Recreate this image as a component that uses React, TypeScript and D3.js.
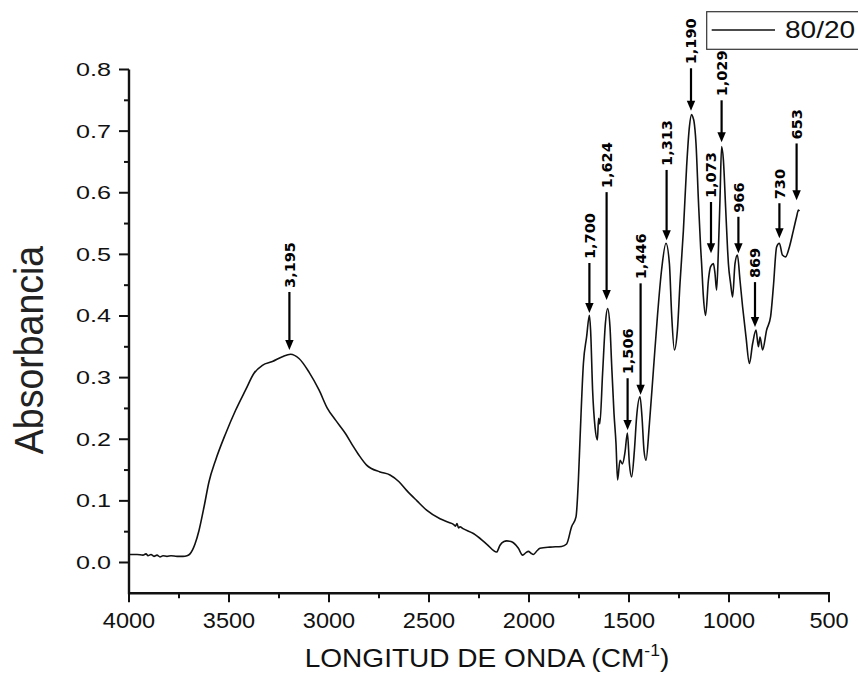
import React from "react";
import * as d3 from "d3";

// ---- Data ----
const WAVENUMBER = [
  4000, 3960, 3930, 3915, 3905, 3890, 3875, 3860, 3845, 3830, 3810, 3790, 3760, 3730, 3710, 3695,
  3683, 3670, 3650, 3625, 3600, 3567, 3517, 3467, 3417, 3375, 3333, 3283, 3233, 3192,
  3150, 3100, 3050, 3008, 2967, 2917, 2878, 2850, 2812, 2745, 2695, 2650, 2612, 2560, 2512, 2445,
  2400, 2378, 2368, 2360, 2352, 2345, 2330, 2278, 2212, 2162, 2145, 2125, 2112, 2090, 2078, 2053,
  2032, 2015, 2003, 1990, 1978, 1960, 1945, 1895, 1837, 1812, 1787, 1765, 1753, 1745, 1728, 1712,
  1698, 1692, 1682, 1670, 1658, 1652, 1646, 1632, 1618, 1607, 1595, 1587, 1575, 1565, 1557, 1545,
  1533, 1520, 1508, 1498, 1487, 1473, 1462, 1445, 1435, 1425, 1415, 1398, 1378, 1358, 1337, 1315,
  1298, 1287, 1273, 1258, 1245, 1228, 1212, 1198, 1187, 1180, 1175, 1165, 1153, 1142, 1137, 1128,
  1117, 1103, 1092, 1078, 1070, 1062, 1053, 1045, 1037, 1028, 1017, 1007, 1003, 992, 982, 970,
  958, 945, 932, 915, 898, 882, 865, 853, 845, 832, 812, 792, 778, 762, 748, 733,
  717, 698, 678, 662, 653, 648,
];
const ABSORBANCE = [
  0.013, 0.013, 0.012, 0.014, 0.011, 0.013, 0.010, 0.012, 0.009, 0.011, 0.010, 0.011, 0.010, 0.010, 0.011, 0.014,
  0.020, 0.030, 0.052, 0.090, 0.131, 0.166, 0.209, 0.247, 0.280, 0.307, 0.320, 0.326, 0.334, 0.338,
  0.331, 0.309, 0.280, 0.250, 0.231, 0.209, 0.188, 0.174, 0.158, 0.147, 0.142, 0.131, 0.117, 0.100, 0.085, 0.071,
  0.065, 0.062, 0.059, 0.063, 0.056, 0.058, 0.055, 0.047, 0.030, 0.017, 0.028, 0.034, 0.035, 0.034, 0.032, 0.023,
  0.012, 0.016, 0.018, 0.015, 0.013, 0.019, 0.023, 0.025, 0.026, 0.030, 0.058, 0.074, 0.134, 0.199, 0.323, 0.366,
  0.401, 0.377, 0.280, 0.220, 0.199, 0.234, 0.225, 0.307, 0.388, 0.412, 0.382, 0.323, 0.242, 0.193, 0.134, 0.166,
  0.160, 0.179, 0.210, 0.160, 0.139, 0.182, 0.236, 0.269, 0.236, 0.182, 0.166, 0.225, 0.312, 0.399, 0.475, 0.518,
  0.485, 0.404, 0.345, 0.377, 0.453, 0.539, 0.642, 0.707, 0.727, 0.722, 0.716, 0.680, 0.588, 0.512, 0.485, 0.431,
  0.401, 0.458, 0.480, 0.485, 0.469, 0.442, 0.507, 0.590, 0.675, 0.653, 0.577, 0.507, 0.485, 0.453, 0.431, 0.485,
  0.499, 0.458, 0.415, 0.366, 0.323, 0.355, 0.377, 0.350, 0.366, 0.345, 0.377, 0.399, 0.448, 0.512, 0.518, 0.499,
  0.496, 0.512, 0.539, 0.561, 0.572, 0.570,
];

// peak annotations
const ANN_LABELS = ["3,195", "1,700", "1,624", "1,506", "1,446", "1,313", "1,190", "1,073", "1,029", "966", "869", "730", "653"];
const ANN_POS = [3198, 1698, 1612, 1507, 1442, 1312, 1190, 1090, 1037, 953, 870, 748, 662];
const ANN_TIP = [0.345, 0.405, 0.426, 0.215, 0.272, 0.523, 0.733, 0.502, 0.682, 0.502, 0.382, 0.526, 0.588];
const ANN_TOP = [0.439, 0.486, 0.601, 0.299, 0.453, 0.637, 0.802, 0.585, 0.75, 0.561, 0.455, 0.583, 0.68];

const X_TICKS = [4000, 3500, 3000, 2500, 2000, 1500, 1000, 500];
const X_MINOR = [3750, 3250, 2750, 2250, 1750, 1250, 750];
const Y_TICKS = [0.0, 0.1, 0.2, 0.3, 0.4, 0.5, 0.6, 0.7, 0.8];
const Y_MINOR = [0.05, 0.15, 0.25, 0.35, 0.45, 0.55, 0.65, 0.75];

const SERIES_NAME = "80/20";
const X_TITLE = "LONGITUD DE ONDA (CM";
const Y_TITLE = "Absorbancia";

const W = 858;
const H = 675;

export default function App() {
  const x = d3.scaleLinear().domain([4000, 500]).range([129, 829]);
  const y = d3.scaleLinear().domain([-0.05, 0.8]).range([593.3, 69.5]);

  const pts: [number, number][] = WAVENUMBER.map((w, i) => [w, ABSORBANCE[i]]);
  const line = d3
    .line<[number, number]>()
    .x((d) => x(d[0]))
    .y((d) => y(d[1]))
    .curve(d3.curveMonotoneX);

  const axisColor = "#111";
  const font = "'Liberation Sans', Arial, sans-serif";

  return (
    <svg
      width={W}
      height={H}
      style={{ position: "absolute", left: 0, top: 0, background: "#fff" }}
      fontFamily={font}
    >
      <rect x={0} y={0} width={W} height={H} fill="#fff" />

      {/* spectrum */}
      <path d={line(pts) || ""} fill="none" stroke="#111" strokeWidth={1.6} strokeLinejoin="round" />

      {/* axes */}
      <line x1={x(4000)} x2={x(4000)} y1={y(0.8)} y2={y(-0.05) + 1} stroke={axisColor} strokeWidth={2.4} />
      <line x1={x(4000) - 1} x2={x(500) + 1} y1={y(-0.05)} y2={y(-0.05)} stroke={axisColor} strokeWidth={2.4} />

      {Y_TICKS.map((t) => (
        <g key={"yt" + t}>
          <line x1={x(4000) - 10} x2={x(4000)} y1={y(t)} y2={y(t)} stroke={axisColor} strokeWidth={2} />
          <text
            transform={`translate(${111},${y(t)}) scale(1.4,1)`}
            textAnchor="end"
            dy="0.36em"
            fontSize={18}
            fill="#111"
          >
            {t.toFixed(1)}
          </text>
        </g>
      ))}
      {Y_MINOR.map((t) => (
        <line key={"ym" + t} x1={x(4000) - 5} x2={x(4000)} y1={y(t)} y2={y(t)} stroke={axisColor} strokeWidth={2} />
      ))}

      {X_TICKS.map((t) => (
        <g key={"xt" + t}>
          <line x1={x(t)} x2={x(t)} y1={y(-0.05)} y2={y(-0.05) + 9} stroke={axisColor} strokeWidth={2} />
          <text
            transform={`translate(${x(t)},${628}) scale(1.07,1)`}
            textAnchor="middle"
            fontSize={22}
            fill="#111"
          >
            {t}
          </text>
        </g>
      ))}
      {X_MINOR.map((t) => (
        <line key={"xm" + t} x1={x(t)} x2={x(t)} y1={y(-0.05)} y2={y(-0.05) + 5} stroke={axisColor} strokeWidth={2} />
      ))}

      {/* axis titles */}
      <text transform={`translate(487,667) scale(1.1,1)`} textAnchor="middle" fontSize={25.5} fill="#111">
        {X_TITLE}
        <tspan fontSize={16} dy={-11}>-1</tspan>
        <tspan dy={11}>)</tspan>
      </text>
      <text
        transform={`translate(43,350) rotate(-90) scale(1,1.1)`}
        textAnchor="middle"
        fontSize={37.5}
        fill="#222"
      >
        {Y_TITLE}
      </text>

      {/* annotations */}
      {ANN_LABELS.map((lab, i) => {
        const ax = x(ANN_POS[i]);
        const tipY = y(ANN_TIP[i]);
        const topY = y(ANN_TOP[i]);
        const headLen = 10;
        const fs = 14.5;
        return (
          <g key={"ann" + i}>
            <line x1={ax} x2={ax} y1={topY} y2={tipY - headLen + 1} stroke="#000" strokeWidth={2.2} />
            <path
              d={`M${ax - 4.2},${tipY - headLen} L${ax + 4.2},${tipY - headLen} L${ax},${tipY} Z`}
              fill="#000"
            />
            <text
              transform={`translate(${ax + 0.36 * fs},${topY - 4}) rotate(-90)`}
              textAnchor="start"
              fontFamily="'DejaVu Sans', sans-serif"
              fontWeight="bold"
              fontSize={fs}
              fill="#000"
            >
              {lab}
            </text>
          </g>
        );
      })}

      {/* legend */}
      <rect x={706.7} y={11.7} width={170} height={37.6} fill="#fff" stroke="#333" strokeWidth={1.2} />
      <line x1={711.7} x2={775} y1={30} y2={30} stroke="#111" strokeWidth={1.4} />
      <text transform={`translate(785,38.3) scale(1.22,1)`} fontSize={23} fill="#111">
        {SERIES_NAME}
      </text>
    </svg>
  );
}
